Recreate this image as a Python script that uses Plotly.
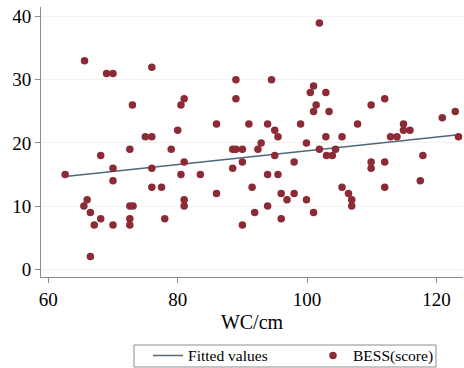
import plotly.graph_objects as go

wc = [65.6, 69.0, 70.0, 76.0, 73.0, 81.0, 80.5, 80.0, 75.0, 76.0,
      72.6, 79.0, 68.1, 62.6, 70.0, 76.0, 81.0, 80.5, 70.0, 76.0,
      77.5, 66.0, 65.5, 66.5, 68.1, 67.1, 70.0, 72.6, 73.1, 72.6,
      72.6, 78.0, 81.0, 81.0, 66.5, 86.0, 89.0, 89.0, 88.5, 89.0,
      90.0, 88.5, 83.5, 86.0, 101.9, 94.5, 101.0, 100.5, 102.9, 101.4,
      101.0, 103.4, 91.0, 93.9, 99.0, 95.0, 95.5, 102.9, 105.4, 99.9,
      92.9, 92.4, 101.9, 104.4, 103.0, 103.9, 95.0, 90.0, 98.0, 93.9,
      95.5, 91.5, 105.4, 96.0, 98.0, 96.9, 99.9, 93.9, 91.9, 101.0,
      96.0, 90.0, 109.9, 112.0, 107.8, 114.9, 114.9, 115.9, 112.9, 113.9,
      120.9, 122.9, 123.4, 109.9, 109.9, 112.0, 117.9, 117.5, 112.0, 106.4,
      106.9, 106.9]
bess = [33, 31, 31, 32, 26, 27, 26, 22, 21, 21,
        19, 19, 18, 15, 16, 16, 17, 15, 14, 13,
        13, 11, 10, 9, 8, 7, 7, 10, 10, 8,
        7, 8, 11, 10, 2, 23, 30, 27, 19, 19,
        19, 16, 15, 12, 39, 30, 29, 28, 28, 26,
        25, 25, 23, 23, 23, 22, 21, 21, 21, 20,
        20, 19, 19, 19, 18, 18, 18, 17, 17, 15,
        15, 13, 13, 12, 12, 11, 11, 10, 9, 9,
        8, 7, 26, 27, 23, 23, 22, 22, 21, 21,
        24, 25, 21, 17, 16, 17, 18, 14, 13, 12,
        11, 10]

fit_x = [62.6, 123.4]
fit_y = [14.7, 21.3]

x_ticks = [60, 80, 100, 120]
y_ticks = [0, 10, 20, 30, 40]

serif = "Liberation Serif"
axis_gray = "#8c8c8c"

fig = go.Figure()
fig.add_trace(go.Scatter(x=fit_x, y=fit_y, mode="lines", name="Fitted values",
                         line=dict(color="#4f6779", width=1.5), legend="legend"))
fig.add_trace(go.Scatter(x=wc, y=bess, mode="markers", name="BESS(score)",
                         marker=dict(color="#8c2a35", size=7.5, line=dict(width=0)),
                         legend="legend2"))

leg_common = dict(orientation="h", xanchor="left", yanchor="middle", y=-0.292,
                  bgcolor="rgba(0,0,0,0)", borderwidth=0,
                  font=dict(family=serif, size=15.5, color="black"))

fig.update_layout(
    width=464, height=368,
    margin=dict(l=41, r=1, t=7, b=91, autoexpand=False),
    paper_bgcolor="white", plot_bgcolor="white",
    font=dict(family=serif, color="black", size=19),
    showlegend=True,
    legend=dict(x=0.2536, **leg_common),
    legend2=dict(x=0.6445, **leg_common),
    shapes=[dict(type="rect", xref="paper", yref="paper",
                 x0=0.2204, x1=0.936, y0=-0.2519, y1=-0.3333,
                 line=dict(color=axis_gray, width=1), fillcolor="rgba(0,0,0,0)")],
    xaxis=dict(range=[58.87, 124.1], tickvals=x_ticks, ticks="outside", ticklen=5,
               tickcolor=axis_gray, showline=True, linecolor=axis_gray, linewidth=1,
               showgrid=False, zeroline=False,
               title=dict(text="WC/cm", font=dict(family=serif, size=20), standoff=6),
               tickfont=dict(family=serif, size=19)),
    yaxis=dict(range=[-1.23, 41.53], tickvals=y_ticks, ticks="outside", ticklen=5,
               tickcolor=axis_gray, showline=True, linecolor=axis_gray, linewidth=1,
               showgrid=True, gridcolor="#f1f1f1", gridwidth=1, zeroline=False,
               tickfont=dict(family=serif, size=19)),
)

fig.write_html("out.html")
